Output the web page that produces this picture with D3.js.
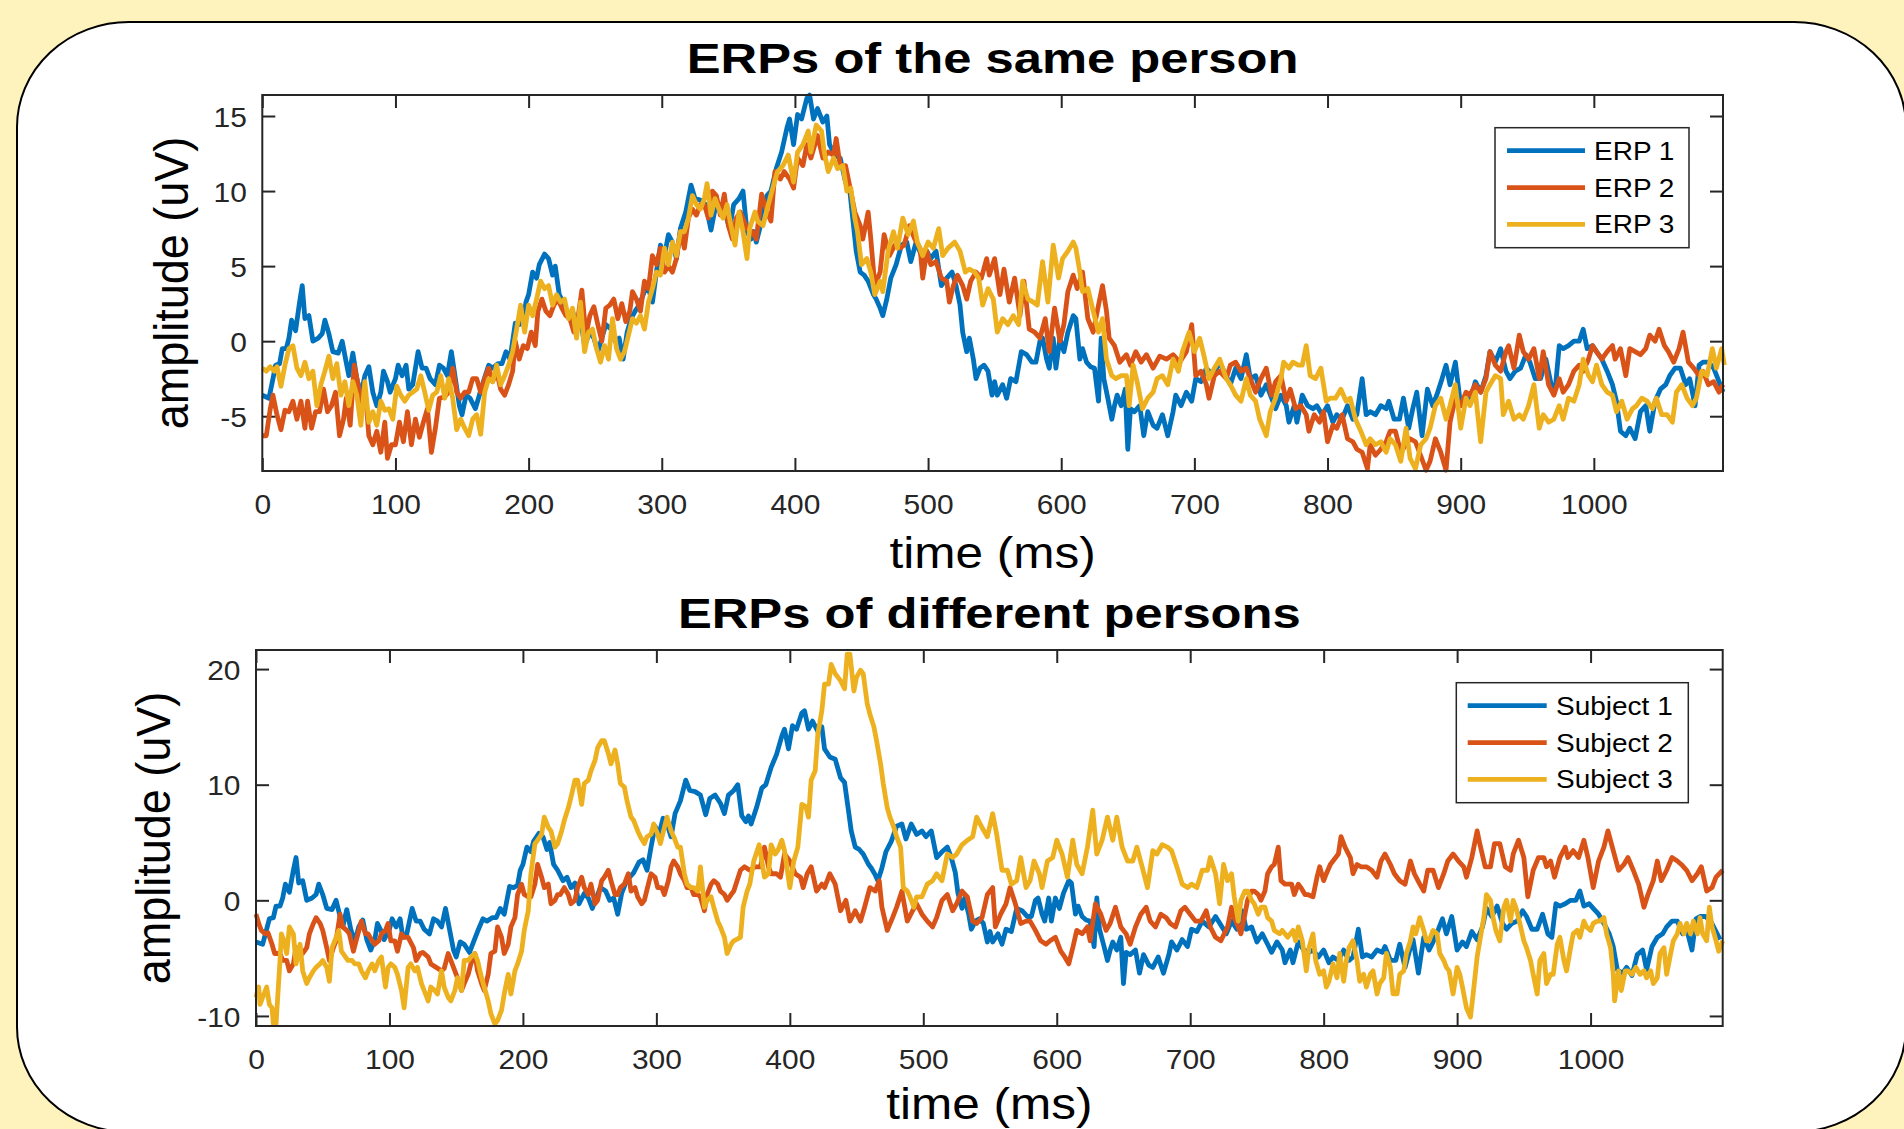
<!DOCTYPE html>
<html><head><meta charset="utf-8">
<script src="https://cdn.jsdelivr.net/npm/d3@7"></script>
<style>html,body{margin:0;padding:0;background:#fef2bd;overflow:hidden}</style>
</head><body><svg id="chart" width="1904" height="1129"></svg>
<script>
// ---------- data (time in ms, amplitude in uV) ----------
const xTicks = [0,100,200,300,400,500,600,700,800,900,1000];
const topYTicks = [-5,0,5,10,15];
const bottomYTicks = [-10,0,10,20];
const topXDomain = [0,1097];
const bottomXDomain = [0,1099];
const topYDomain = [-8.65,16.4];
const bottomYDomain = [-10.87,21.65];
const topTitle = "ERPs of the same person";
const bottomTitle = "ERPs of different persons";
const xLabel = "time (ms)";
const yLabel = "amplitude (uV)";
const topLegend = ["ERP 1","ERP 2","ERP 3"];
const bottomLegend = ["Subject 1","Subject 2","Subject 3"];
const colors = ["#0072BD","#D95319","#EDB120"];

const erp1 = [[0,-3.6],[5,-3.8],[8,-2.5],[10,-1.6],[13,-1.5],[15,-0.5],[18,-0.5],[20,0.2],[22,1.4],[25,0.7],[28,2.6],[30,3.7],[32,1.5],[35,1.7],[38,0.0],[42,0.2],[45,0.5],[47,1.4],[50,0.5],[53,-0.7],[57,-0.8],[60,0.0],[63,-1.4],[65,-2.3],[68,-0.8],[71,-2.5],[74,-3.6],[77,-2.3],[80,-1.7],[83,-3.4],[86,-4.3],[89,-3.4],[91,-2.0],[94,-2.7],[96,-3.4],[100,-2.5],[102,-1.6],[105,-2.3],[108,-1.6],[110,-3.2],[113,-2.9],[117,-0.7],[120,-1.8],[123,-1.8],[126,-2.5],[130,-2.9],[133,-1.6],[136,-1.8],[139,-2.3],[142,-0.7],[145,-2.5],[148,-4.3],[150,-4.9],[153,-3.6],[156,-3.8],[160,-4.5],[163,-3.6],[166,-2.7],[170,-1.6],[173,-1.8],[177,-1.5],[180,-1.5],[183,-0.7],[186,-1.2],[190,1.2],[193,1.1],[196,1.3],[198,2.6],[200,3.1],[203,4.6],[206,4.2],[208,5.1],[212,5.8],[215,5.5],[218,4.4],[220,5.0],[223,3.1],[226,2.6],[230,1.7],[233,2.0],[236,1.1],[239,1.5],[242,-0.3],[246,0.6],[249,0.2],[252,-0.7],[255,0.2],[258,1.1],[262,0.8],[265,0.0],[268,0.2],[271,-1.2],[274,0.6],[277,1.5],[280,2.0],[283,2.4],[287,3.3],[290,3.5],[293,2.6],[296,4.6],[299,6.4],[302,5.7],[305,7.1],[308,6.6],[311,5.5],[314,7.5],[318,8.6],[322,10.4],[325,9.5],[329,9.4],[333,9.1],[337,7.4],[340,8.8],[344,9.1],[348,8.4],[351,7.5],[354,9.1],[358,9.5],[361,10.0],[364,7.3],[367,6.8],
[369,7.3],[371,6.6],[375,8.0],[379,9.7],[382,10.0],[386,11.5],[390,12.6],[394,14.2],[396,14.8],[399,13.1],[402,15.1],[405,14.8],[409,16.2],[411,16.4],[414,14.8],[417,15.5],[421,14.6],[424,15.0],[426,13.1],[430,12.4],[434,12.2],[438,10.6],[441,10.2],[444,7.7],[446,6.0],[449,4.6],[452,4.4],[455,4.0],[459,3.1],[461,2.8],[464,2.2],[466,1.7],[469,2.8],[472,4.2],[476,5.1],[480,6.4],[484,6.6],[487,5.3],[491,6.6],[495,5.7],[499,6.0],[502,5.5],[506,6.0],[510,3.7],[514,4.2],[518,4.6],[521,3.7],[524,2.4],[526,0.6],[529,-0.7],[531,0.2],[534,-1.2],[536,-2.5],[539,-1.8],[542,-1.6],[545,-2.0],[548,-3.6],[550,-2.7],[552,-3.6],[556,-2.9],[559,-3.8],[562,-2.5],[566,-2.7],[570,-0.7],[574,-0.9],[578,-1.4],[581,-1.4],[584,0.0],[586,0.2],[589,-1.2],[591,-1.8],[594,0.2],[596,-1.8],[599,0.2],[602,-0.7],[605,0.6],[609,1.7],[611,1.5],[614,-1.2],[616,-0.5],[619,-1.4],[622,-1.7],[625,-1.8],[628,-4.0],[630,0.2],[632,-2.5],[635,-3.8],[638,-5.2],[640,-4.3],[642,-3.6],[645,-4.3],[648,-3.2],[650,-7.2],[652,-4.5],[655,-4.7],[659,-4.3],[662,-6.3],[665,-4.7],[669,-5.6],[672,-5.8],[676,-4.9],[680,-6.3],[684,-4.7],[686,-3.6],[690,-4.3],[694,-3.4],[698,-4.0],[701,-2.5],[705,-2.7],[709,-1.8],[714,-2.3],[719,-1.4],
[727,-2.9],[731,-1.8],[735,-2.5],[739,-0.9],[742,-2.5],[746,-2.3],[750,-3.6],[754,-2.9],[758,-3.8],[761,-4.5],[765,-3.6],[769,-4.3],[771,-5.4],[775,-4.3],[777,-5.4],[781,-3.6],[785,-4.3],[789,-4.5],[792,-4.3],[796,-4.9],[800,-4.3],[804,-5.4],[807,-4.9],[811,-5.2],[815,-4.3],[819,-5.2],[822,-4.9],[826,-2.5],[829,-4.9],[832,-4.7],[836,-4.9],[840,-4.3],[844,-4.5],[846,-4.0],[850,-5.2],[854,-5.2],[857,-3.8],[861,-5.8],[864,-4.5],[867,-3.4],[871,-6.3],[875,-3.2],[879,-4.3],[882,-3.6],[886,-2.5],[889,-1.6],[892,-2.9],[896,-1.4],[900,-4.3],[904,-3.6],[907,-4.0],[911,-2.7],[915,-3.4],[919,-2.3],[922,-0.7],[926,-1.4],[930,-0.5],[934,-2.0],[937,-2.5],[941,-2.0],[945,-1.8],[949,-0.9],[952,-1.4],[956,-2.5],[960,-2.5],[964,-1.2],[968,-2.9],[971,-3.2],[974,-0.3],[977,-0.5],[981,-0.3],[985,0.0],[989,0.0],[992,0.8],[995,-0.5],[999,-0.3],[1002,-0.7],[1006,-1.2],[1010,-2.0],[1014,-2.9],[1017,-4.0],[1020,-6.0],[1024,-6.3],[1027,-5.8],[1031,-6.5],[1035,-4.7],[1039,-4.3],[1042,-6.0],[1046,-4.0],[1050,-3.2],[1054,-2.9],[1057,-2.3],[1061,-1.8],[1065,-1.8],[1069,-2.9],[1072,-2.5],[1076,-4.3],[1079,-1.6],[1082,-1.4],[1086,-1.4],[1090,-1.8],[1094,-2.7],[1097,-3.4]];

const erp2 = [[0,-6.3],[3,-6.3],[6,-4.5],[8,-3.6],[11,-4.9],[14,-5.9],[17,-4.6],[20,-4.7],[23,-4.0],[26,-5.2],[29,-4.0],[32,-5.8],[34,-4.0],[37,-5.8],[40,-4.7],[43,-4.7],[46,-3.2],[49,-4.7],[52,-4.3],[55,-3.4],[58,-6.3],[61,-5.2],[63,-3.8],[66,-5.6],[69,-1.6],[72,-2.9],[75,-4.3],[78,-4.0],[80,-6.3],[83,-6.9],[86,-6.0],[89,-7.4],[92,-5.4],[94,-7.8],[97,-6.9],[100,-6.9],[103,-5.4],[106,-6.7],[109,-4.7],[112,-6.9],[115,-5.2],[118,-6.4],[121,-5.4],[124,-4.5],[127,-7.4],[130,-5.8],[133,-3.8],[137,-3.7],[140,-3.4],[143,-1.8],[146,-3.4],[149,-3.8],[152,-3.4],[155,-3.4],[158,-2.5],[161,-2.5],[164,-3.4],[167,-2.5],[170,-1.8],[173,-2.7],[176,-2.0],[179,-3.2],[182,-3.6],[185,-2.9],[188,-2.0],[190,0.0],[193,-1.2],[196,-0.3],[199,-0.5],[202,0.6],[205,-0.3],[207,2.0],[210,2.8],[213,2.0],[216,1.7],[219,2.4],[222,2.8],[225,2.2],[228,1.7],[231,1.5],[234,0.6],[237,1.5],[240,3.4],[243,0.4],[246,1.7],[249,2.3],[252,1.1],[255,0.0],[258,2.2],[261,2.4],[264,2.8],[267,1.5],[270,2.5],[273,1.3],[276,2.0],[278,3.3],[281,2.8],[284,2.0],[287,4.0],[290,3.5],[293,5.7],[296,5.1],[299,6.2],[302,4.6],[305,5.0],[308,4.6],[311,5.5],[314,7.3],[317,6.2],[320,8.2],[323,8.8],[326,8.4],[329,9.1],[332,9.1],[335,8.2],[338,10.0],[341,9.7],[344,8.4],[347,9.8],[350,7.7],[353,6.8],[356,8.2],
[359,8.6],[364,7.5],[368,7.3],[371,6.8],[375,9.8],[379,8.6],[382,8.0],[385,11.3],[389,10.8],[392,11.3],[396,10.8],[399,10.2],[402,12.2],[406,11.7],[409,13.1],[412,12.2],[417,13.7],[421,12.2],[425,12.6],[429,12.4],[431,13.5],[434,11.7],[438,11.7],[441,10.4],[445,8.6],[449,7.7],[451,6.8],[455,8.6],[457,6.8],[460,3.7],[464,4.6],[467,7.1],[471,5.7],[475,6.4],[479,6.2],[482,6.4],[486,7.7],[490,6.8],[494,6.2],[496,4.2],[499,6.0],[502,5.1],[506,5.3],[510,4.2],[514,4.0],[516,2.6],[519,3.7],[522,4.4],[526,3.7],[529,2.8],[532,4.0],[536,4.6],[540,4.2],[544,5.5],[546,4.4],[550,5.5],[554,3.1],[557,4.8],[561,2.6],[565,4.2],[569,1.7],[572,4.0],[576,0.8],[580,0.6],[584,0.2],[588,1.5],[591,-0.7],[595,2.2],[599,0.0],[602,1.1],[605,3.3],[609,4.4],[612,3.5],[616,4.6],[620,1.5],[624,0.6],[628,2.4],[631,3.7],[634,2.0],[636,0.2],[640,-0.3],[644,-1.4],[649,-0.9],[652,-1.6],[656,-0.7],[660,-1.4],[664,-0.9],[669,-1.8],[674,-1.0],[679,-1.2],[684,-0.9],[689,-1.4],[694,-0.7],[698,1.1],[701,-2.3],[705,-2.0],[709,-2.9],[711,-3.8],[715,-2.3],[719,-2.0],
[724,-2.5],[727,-1.6],[731,-1.4],[735,-2.0],[739,-1.8],[742,-2.5],[746,-3.4],[750,-2.5],[754,-1.8],[758,-3.6],[761,-2.7],[765,-2.3],[769,-4.0],[772,-3.2],[776,-4.5],[780,-4.3],[784,-4.9],[786,-6.0],[790,-4.9],[794,-5.4],[797,-4.7],[800,-6.7],[804,-5.6],[807,-5.8],[811,-4.9],[815,-6.5],[819,-6.7],[822,-7.2],[826,-7.4],[830,-8.5],[832,-6.9],[836,-7.6],[840,-7.2],[844,-6.7],[847,-6.0],[851,-6.0],[855,-7.4],[859,-6.9],[862,-6.5],[866,-6.7],[869,-7.4],[874,-8.6],[877,-8.0],[881,-6.5],[885,-7.4],[889,-8.6],[892,-5.4],[896,-3.8],[900,-4.3],[904,-3.4],[907,-3.6],[911,-2.9],[915,-3.4],[919,-2.5],[922,-0.7],[926,-1.6],[930,-2.0],[934,-0.7],[936,-0.3],[940,-1.8],[944,0.4],[947,-0.7],[951,-1.2],[955,-0.5],[959,-2.5],[962,-0.7],[966,-2.9],[970,-3.6],[974,-2.5],[977,-3.4],[981,-2.9],[985,-2.0],[989,-1.6],[992,-2.0],[996,-1.2],[999,-0.3],[1002,-0.7],[1006,-1.2],[1010,-0.7],[1014,-0.3],[1016,-1.2],[1020,-0.5],[1024,-2.3],[1027,-0.5],[1031,-0.7],[1035,-0.9],[1039,-0.5],[1042,0.4],[1046,0.0],[1049,0.8],[1053,-0.3],[1056,-0.7],[1060,-1.4],[1064,-0.5],[1067,0.6],[1071,-1.4],[1075,-1.8],[1079,-2.3],[1082,-2.0],[1086,-2.9],[1090,-2.7],[1094,-3.4],[1097,-2.9]];

const erp3 = [[0,-1.8],[3,-2.0],[6,-1.7],[9,-2.0],[11,-1.7],[14,-3.0],[17,-1.6],[20,-0.5],[23,-0.3],[26,-1.8],[29,-2.3],[32,-1.4],[35,-2.5],[38,-2.0],[41,-4.3],[44,-2.9],[47,-2.0],[50,-1.0],[53,-2.5],[56,-1.5],[59,-3.6],[62,-2.7],[65,-4.3],[68,-2.7],[71,-3.6],[74,-5.6],[77,-2.7],[80,-5.4],[83,-4.7],[86,-5.6],[89,-4.0],[92,-4.6],[95,-4.5],[98,-5.2],[101,-3.0],[104,-3.6],[107,-4.0],[110,-3.6],[113,-3.4],[116,-3.2],[119,-2.3],[122,-3.4],[125,-4.6],[128,-3.6],[131,-3.4],[134,-2.3],[137,-3.8],[140,-2.5],[143,-3.8],[146,-5.9],[149,-5.2],[152,-5.8],[155,-6.3],[158,-5.2],[161,-4.9],[164,-6.2],[167,-3.4],[170,-2.5],[173,-2.7],[176,-1.6],[179,-2.9],[182,-2.3],[185,-1.6],[188,-0.7],[191,0.8],[194,2.4],[197,0.6],[200,2.4],[203,1.7],[206,2.8],[209,4.0],[212,3.5],[215,3.7],[218,2.4],[221,3.1],[224,2.6],[227,2.8],[230,1.5],[233,2.2],[236,0.2],[239,2.6],[242,-0.7],[245,0.6],[248,0.8],[251,-0.5],[254,-1.4],[257,-0.3],[260,-1.2],[263,1.5],[266,-0.5],[269,-1.2],[272,-0.7],[275,0.4],[278,1.5],[281,1.2],[284,1.7],[287,0.8],[290,2.6],[293,3.5],[296,4.6],[299,4.4],[302,6.2],[305,5.1],[308,6.6],[311,5.7],[314,7.3],[317,7.3],[320,8.2],[323,9.7],[326,9.1],[329,8.8],[332,9.5],[334,10.5],[337,8.4],[340,9.5],[343,8.8],[346,8.2],[349,9.1],[352,7.7],[355,6.4],[358,8.6],
[361,7.3],[364,5.5],[366,7.5],[370,8.6],[372,8.0],[376,7.7],[380,9.1],[384,10.4],[387,11.3],[391,11.7],[395,12.4],[399,10.6],[402,12.6],[406,13.1],[410,14.0],[412,12.6],[416,14.4],[420,14.0],[422,12.6],[425,11.3],[429,12.2],[432,11.5],[436,11.7],[439,10.0],[442,10.2],[445,8.2],[447,7.3],[450,5.1],[454,5.5],[457,4.6],[460,3.1],[464,4.0],[466,3.3],[470,6.0],[474,7.3],[477,6.2],[481,8.2],[485,7.1],[489,8.0],[492,6.6],[496,5.7],[500,6.6],[504,6.2],[508,7.5],[511,5.7],[515,6.2],[520,6.6],[524,6.0],[528,4.6],[531,4.8],[535,4.6],[538,4.2],[541,2.4],[545,3.5],[549,2.8],[552,0.6],[556,1.5],[560,1.1],[564,1.7],[568,1.1],[571,4.0],[575,2.8],[579,2.6],[582,2.4],[586,5.3],[590,2.6],[594,6.4],[598,4.2],[601,5.5],[605,6.0],[609,6.6],[611,6.2],[614,4.6],[616,3.3],[620,3.5],[624,2.0],[628,0.6],[631,1.5],[634,-1.2],[638,-2.3],[641,-2.5],[645,-2.3],[649,-2.3],[651,-4.3],[654,-1.6],[657,-2.7],[661,-4.5],[665,-3.8],[669,-3.4],[672,-2.5],[676,-2.3],[680,-2.9],[684,-1.2],[688,-2.0],[691,-0.7],[696,0.6],[700,-0.7],[704,0.2],[707,-0.9],[711,-2.5],[715,-1.8],[719,-1.2],
[724,-2.5],[727,-2.9],[731,-3.6],[735,-4.0],[739,-2.5],[742,-3.6],[746,-4.0],[749,-5.2],[754,-6.3],[757,-4.7],[761,-3.8],[765,-2.5],[767,-1.4],[771,-1.8],[774,-1.4],[778,-1.6],[781,-1.6],[784,-0.3],[787,-2.3],[791,-2.5],[795,-1.8],[799,-4.0],[802,-3.8],[806,-3.8],[810,-3.2],[814,-4.0],[817,-3.8],[821,-5.2],[825,-6.0],[829,-6.9],[832,-6.5],[836,-6.9],[840,-6.7],[844,-7.4],[847,-6.5],[851,-6.9],[855,-8.0],[859,-5.8],[862,-7.8],[866,-8.5],[870,-6.9],[874,-6.5],[877,-5.8],[881,-4.3],[885,-3.8],[889,-5.2],[892,-4.3],[896,-2.9],[900,-5.8],[904,-3.8],[907,-4.3],[911,-3.4],[915,-6.7],[919,-3.4],[922,-2.9],[926,-2.3],[930,-2.5],[932,-4.9],[936,-4.0],[940,-5.2],[944,-4.9],[947,-5.2],[951,-4.3],[955,-2.9],[959,-5.8],[962,-4.9],[966,-5.4],[970,-5.2],[974,-4.3],[977,-5.2],[981,-3.8],[985,-4.0],[989,-2.9],[992,-1.2],[996,-2.3],[999,-2.7],[1002,-1.6],[1006,-2.9],[1010,-3.4],[1014,-3.6],[1017,-4.7],[1021,-4.0],[1025,-5.2],[1029,-4.5],[1032,-4.3],[1036,-3.8],[1040,-4.0],[1044,-4.5],[1047,-3.8],[1051,-4.9],[1055,-4.9],[1059,-5.4],[1062,-3.4],[1066,-2.9],[1070,-3.8],[1074,-4.3],[1077,-3.8],[1081,-2.0],[1085,-2.3],[1089,-0.5],[1092,-1.8],[1096,-0.5],[1098,-1.6]];

// Subject 1 is the same recording as ERP 1 (identical trace in the picture)
const subject1 = erp1;

const subject2 = [[0,-1.2],[2,-2.0],[4,-2.6],[7,-2.9],[9,-2.8],[12,-3.8],[14,-4.6],[18,-4.6],[20,-5.2],[23,-5.2],[25,-6.1],[28,-5.5],[30,-4.1],[33,-4.6],[35,-4.6],[38,-4.1],[40,-2.9],[43,-2.0],[45,-1.5],[48,-2.0],[50,-2.6],[53,-4.1],[55,-5.2],[58,-4.1],[60,-3.5],[63,-1.2],[65,-2.3],[68,-2.6],[70,-2.9],[73,-4.4],[75,-3.5],[79,-1.8],[82,-2.9],[84,-2.9],[87,-3.5],[89,-3.8],[92,-3.5],[94,-2.9],[97,-2.6],[99,-2.0],[101,-3.5],[104,-3.5],[106,-4.4],[109,-2.9],[111,-3.2],[114,-3.2],[118,-4.1],[120,-5.2],[123,-4.6],[125,-4.5],[129,-4.9],[131,-5.5],[135,-5.8],[139,-6.1],[141,-5.9],[144,-4.6],[146,-5.2],[149,-6.1],[151,-6.7],[154,-7.8],[156,-7.2],[159,-6.4],[161,-5.5],[164,-4.6],[166,-6.1],[169,-7.2],[171,-7.8],[174,-6.4],[176,-4.6],[179,-4.4],[181,-2.3],[184,-3.2],[186,-4.6],[189,-3.8],[191,-2.3],[194,-1.5],[196,0.5],[199,1.4],[201,0.5],[204,0.3],[206,0.3],[209,1.4],[211,3.1],[214,2.0],[216,1.1],[219,1.4],[221,-0.3],[224,0.0],[226,0.5],[228,0.5],[231,1.1],[234,0.5],[236,-0.3],[239,0.0],[241,1.1],[244,2.0],[246,1.1],[249,0.5],[251,1.4],[254,-0.3],[256,0.0],[259,1.7],[261,2.0],[264,2.6],[266,1.7],[269,0.5],[271,0.5],[273,1.1],[276,1.4],[279,2.3],[281,0.8],[284,1.1],[286,0.3],[289,-0.3],[291,0.0],[294,1.4],[296,2.3],[299,2.0],[301,1.1],[304,1.1],[306,0.5],[309,1.7],[311,2.9],[313,3.4],[316,2.9],[318,2.3],[321,1.7],[323,1.1],[326,1.1],[328,0.5],[331,0.5],[333,0.3],[336,-0.9],[338,0.5],[341,1.4],[343,1.7],[346,1.4],[348,0.8],[351,0.5],[353,0.0],[356,0.5],[358,0.8],
[363,2.6],[366,2.9],[370,2.6],[374,2.9],[378,2.9],[381,4.6],[384,2.9],[386,2.3],[390,2.3],[393,2.0],[396,4.0],[400,3.4],[404,2.3],[408,2.0],[410,1.1],[413,2.3],[416,2.9],[420,0.8],[424,1.4],[426,1.1],[430,2.3],[434,1.4],[438,-0.9],[442,0.0],[445,-1.8],[449,-0.9],[453,-1.8],[456,-0.6],[460,1.1],[464,0.8],[467,1.7],[469,-0.6],[473,-2.6],[477,-1.5],[480,-0.6],[484,0.8],[488,-1.8],[492,-0.9],[495,-0.3],[499,-1.2],[503,-1.8],[507,-2.3],[510,-1.5],[514,0.0],[518,0.5],[522,-0.9],[525,-0.3],[529,0.8],[533,0.3],[537,-1.8],[540,-2.0],[544,-1.5],[548,0.5],[552,1.1],[554,-2.3],[558,-1.2],[562,-0.3],[565,1.1],[569,-0.3],[573,-2.0],[577,-1.8],[580,-1.8],[584,-2.6],[588,-3.5],[592,-3.8],[595,-3.5],[599,-3.2],[603,-4.4],[606,-4.9],[609,-5.5],[612,-4.1],[615,-2.6],[619,-2.9],[623,-2.3],[625,-3.5],[629,-0.3],[633,-1.2],[637,-2.6],[640,-2.0],[644,-0.6],[648,-2.3],[652,-2.9],[655,-3.8],[659,-2.3],[663,-1.2],[667,-0.6],[670,-1.8],[674,-2.3],[678,-1.2],[682,-1.5],[685,-2.0],[689,-2.3],[693,-0.9],[696,-0.6],[700,-1.2],[704,-1.8],[708,-1.8],[712,-0.9],[715,-2.3],[719,-3.2],[723,-3.5],
[728,-2.3],[731,-0.6],[733,-1.5],[736,-2.3],[738,-2.9],[741,-1.2],[743,0.0],[746,0.8],[748,0.8],[751,0.5],[753,0.0],[756,0.8],[758,2.3],[761,2.9],[763,3.1],[766,4.6],[768,1.7],[771,1.4],[773,1.4],[776,1.4],[778,0.5],[781,1.4],[783,1.1],[786,0.5],[788,0.5],[792,0.3],[795,2.0],[797,2.9],[800,1.7],[802,2.3],[805,3.1],[807,3.4],[811,4.0],[813,5.5],[816,4.6],[820,3.7],[822,2.3],[825,3.1],[828,2.9],[832,2.9],[836,2.6],[840,2.0],[843,3.4],[846,4.0],[850,3.1],[853,2.3],[857,1.7],[861,1.4],[865,3.4],[868,2.3],[872,1.4],[875,0.8],[878,2.6],[882,2.6],[886,1.1],[890,2.3],[893,3.4],[897,4.0],[901,3.4],[905,2.9],[907,2.0],[911,3.7],[915,6.0],[917,4.9],[921,2.9],[925,2.9],[928,4.9],[932,4.9],[936,2.9],[940,2.6],[942,4.0],[946,5.2],[950,3.7],[953,0.3],[957,2.6],[961,3.7],[965,3.7],[967,2.9],[970,3.4],[973,2.0],[977,3.7],[981,4.6],[983,3.7],[987,4.3],[991,3.7],[995,5.2],[998,3.7],[1002,1.1],[1006,3.4],[1010,4.6],[1013,6.0],[1017,4.3],[1021,2.6],[1025,3.1],[1028,3.7],[1032,2.6],[1036,1.4],[1040,-0.6],[1043,0.5],[1047,1.7],[1050,3.4],[1053,1.7],[1057,2.6],[1061,3.7],[1065,3.4],[1068,3.1],[1072,2.6],[1076,1.7],[1080,2.3],[1083,2.9],[1087,0.8],[1091,1.1],[1094,2.0],[1099,2.6]];

const subject3 = [[0,-8.4],[2,-7.5],[3,-9.0],[5,-8.4],[8,-7.5],[10,-9.0],[12,-9.3],[13,-10.7],[15,-10.7],[18,-5.2],[19,-2.9],[21,-3.5],[23,-4.6],[25,-2.3],[28,-2.9],[30,-5.5],[33,-3.8],[35,-6.1],[38,-7.2],[40,-6.7],[43,-6.1],[45,-5.8],[48,-5.5],[50,-5.2],[53,-5.8],[55,-7.0],[57,-4.1],[59,-3.5],[62,-2.6],[64,-4.4],[67,-4.9],[69,-5.2],[72,-5.2],[74,-5.5],[77,-5.5],[79,-6.1],[82,-6.7],[84,-6.1],[87,-5.5],[89,-6.1],[92,-5.2],[94,-4.9],[97,-7.5],[99,-5.8],[101,-5.5],[104,-5.8],[106,-6.4],[109,-7.8],[111,-9.3],[114,-5.8],[116,-5.5],[119,-6.1],[121,-5.8],[124,-7.2],[126,-7.8],[129,-8.7],[131,-7.5],[134,-7.8],[136,-8.1],[139,-6.1],[141,-7.5],[144,-8.4],[146,-8.7],[149,-7.8],[151,-6.7],[154,-7.8],[156,-5.2],[159,-5.2],[161,-4.9],[164,-4.6],[166,-5.2],[169,-6.7],[171,-7.5],[174,-8.7],[176,-9.8],[179,-10.7],[181,-10.4],[184,-9.5],[186,-8.1],[189,-6.4],[191,-8.1],[194,-6.1],[196,-5.5],[199,-4.4],[201,-2.6],[204,-0.9],[206,2.3],[209,4.9],[211,5.2],[214,5.7],[216,7.2],[219,6.3],[221,6.0],[224,4.6],[226,4.9],[229,6.0],[231,6.9],[234,8.0],[236,8.9],[239,10.4],[241,10.4],[244,8.3],[246,10.1],[249,10.4],[251,11.2],[254,12.1],[256,13.2],[259,13.8],[261,13.8],[264,12.7],[266,11.8],[269,13.0],[271,11.8],[273,10.1],[276,9.8],[278,8.6],[281,7.2],[283,6.9],[286,6.0],[288,5.5],[291,4.9],[293,5.5],[296,5.7],[298,6.6],[301,5.7],[303,4.9],[306,6.3],[308,7.2],[311,6.0],[313,5.5],[316,4.6],[318,4.6],[321,2.3],[323,1.4],[326,1.1],[328,1.1],[331,0.8],[333,2.9],[336,-0.6],[338,0.0],[341,0.3],[343,-0.6],[346,-1.8],[348,-2.3],[351,-3.2],[353,-4.6],[356,-3.8],[358,-3.5],
[363,-3.2],[365,-0.6],[368,0.8],[370,1.4],[373,3.4],[377,4.8],[379,3.4],[381,2.0],[384,2.3],[386,4.8],[389,4.0],[391,4.3],[394,5.2],[396,4.3],[400,1.1],[403,3.4],[406,4.6],[409,8.3],[412,8.1],[414,7.2],[416,10.4],[419,11.2],[421,14.4],[424,16.4],[426,18.7],[429,18.7],[431,20.4],[434,19.6],[438,19.0],[441,18.3],[443,21.3],[445,21.3],[448,18.1],[450,19.3],[453,19.9],[455,19.6],[458,17.0],[460,16.1],[463,15.0],[465,13.8],[468,11.8],[470,10.1],[473,8.0],[475,7.2],[478,6.3],[480,5.5],[483,4.6],[485,1.1],[488,0.8],[490,0.3],[493,-0.6],[495,0.3],[499,0.3],[503,1.4],[507,1.7],[510,2.3],[514,1.7],[518,4.0],[522,3.7],[525,4.0],[529,4.8],[533,5.2],[537,5.5],[540,7.2],[544,6.3],[548,5.5],[552,7.5],[555,5.7],[559,2.6],[563,2.6],[566,1.4],[570,1.7],[573,3.7],[577,1.1],[580,1.7],[583,3.4],[587,2.3],[589,1.1],[593,3.4],[597,3.7],[600,5.2],[604,4.0],[608,2.0],[612,5.2],[615,3.1],[619,2.3],[623,4.6],[627,7.8],[630,4.0],[634,5.2],[638,7.2],[642,5.2],[645,7.2],[649,4.6],[653,3.4],[657,3.4],[660,4.6],[664,2.9],[668,1.1],[672,4.3],[675,4.0],[679,4.8],[683,4.6],[686,4.3],[690,2.9],[694,1.4],[698,1.1],[701,1.4],[705,1.1],[709,2.6],[713,2.6],[715,3.7],[719,2.3],[722,-0.3],[725,3.1],
[728,1.7],[731,2.3],[733,0.3],[736,-1.8],[738,0.0],[741,0.8],[743,0.8],[746,0.0],[748,-0.3],[751,-1.2],[753,-0.6],[756,-0.6],[758,-1.5],[761,-1.8],[763,-2.6],[767,-2.9],[769,-2.6],[773,-3.2],[777,-2.6],[779,-3.5],[781,-2.3],[784,-3.5],[787,-6.1],[789,-4.1],[792,-2.9],[794,-5.2],[797,-6.4],[800,-6.1],[802,-7.5],[804,-7.0],[807,-5.5],[810,-6.7],[812,-4.6],[815,-7.0],[817,-5.2],[819,-4.1],[822,-3.5],[825,-5.2],[827,-7.0],[830,-6.4],[832,-7.5],[835,-6.4],[837,-6.1],[840,-8.1],[842,-7.2],[845,-6.7],[847,-4.6],[850,-5.8],[852,-8.1],[855,-8.1],[857,-6.4],[860,-6.1],[862,-4.6],[865,-3.5],[867,-2.3],[869,-2.9],[872,-1.5],[875,-2.6],[877,-3.5],[879,-3.5],[882,-2.6],[885,-2.9],[887,-4.6],[890,-5.2],[892,-5.8],[894,-6.1],[897,-8.1],[900,-5.8],[902,-6.4],[904,-7.5],[907,-9.3],[910,-10.1],[912,-8.1],[915,-4.9],[917,-3.5],[920,-1.5],[922,0.5],[925,0.0],[927,-1.5],[929,-2.6],[932,-3.5],[935,-0.6],[937,0.0],[940,-1.8],[942,0.0],[944,-0.6],[947,-2.0],[950,-3.5],[952,-4.1],[955,-5.2],[957,-6.4],[960,-8.1],[962,-5.2],[965,-4.6],[967,-7.2],[970,-6.4],[972,-6.4],[975,-3.8],[977,-3.2],[980,-5.2],[982,-6.1],[985,-4.1],[987,-2.9],[990,-2.6],[992,-3.2],[995,-1.8],[997,-2.3],[1000,-2.6],[1002,-2.0],[1005,-1.8],[1007,-1.8],[1010,-1.5],[1012,-2.9],[1015,-4.1],[1017,-6.4],[1018,-8.7],[1021,-6.1],[1023,-7.8],[1026,-6.1],[1028,-6.1],[1031,-6.4],[1034,-5.8],[1037,-6.4],[1040,-6.1],[1042,-6.7],[1045,-6.1],[1047,-7.2],[1050,-6.7],[1052,-4.6],[1055,-4.1],[1057,-6.4],[1060,-4.6],[1062,-3.5],[1065,-2.9],[1067,-2.0],[1070,-2.9],[1072,-2.0],[1075,-2.9],[1077,-1.8],[1080,-2.9],[1082,-1.5],[1084,-2.9],[1087,-3.5],[1089,-0.6],[1091,-2.3],[1094,-3.5],[1096,-4.4],[1099,-3.5]];

// ---------- drawing ----------
const FONT = "'Liberation Sans', Arial, Helvetica, sans-serif";
const AX = "#262626";
const LW = 4.8;
const svg = d3.select('#chart');
svg.append('rect').attr('width',1904).attr('height',1129).attr('fill','#fef2bd');
svg.append('rect').attr('x',17).attr('y',22).attr('width',1889).attr('height',1110)
   .attr('rx',112).attr('ry',105).attr('fill','#ffffff').attr('stroke','#000').attr('stroke-width',2);

function stretch(sel, sx){
  sel.each(function(){
    const t = d3.select(this);
    const x = +t.attr('x') || 0, y = +t.attr('y') || 0;
    t.attr('transform', `translate(${x},${y}) scale(${sx},1) translate(${-x},${-y})`);
  });
}

function drawPanel(p){
  const x = d3.scaleLinear().domain(p.xDomain).range([p.left, p.right]);
  const y = d3.scaleLinear().domain(p.yDomain).range([p.bottom, p.top]);
  const g = svg.append('g');
  const T = 13;

  const styleAxis = a => {
    a.attr('font-family', FONT).attr('font-size', 28).attr('color', AX);
    a.select('.domain').remove();
    a.selectAll('.tick line').attr('stroke-width', 2);
    a.selectAll('.tick text').attr('fill', AX);
  };

  const ab = g.append('g').attr('transform', `translate(0,${p.bottom})`)
    .call(d3.axisBottom(x).tickValues(xTicks).tickSizeInner(-T).tickSizeOuter(0).tickFormat(d => String(d)));
  styleAxis(ab);
  ab.selectAll('.tick text').attr('y', p.xTickBaseline).attr('dy', null);
  stretch(ab.selectAll('.tick text'), 1.07);

  const at = g.append('g').attr('transform', `translate(0,${p.top})`)
    .call(d3.axisTop(x).tickValues(xTicks).tickSizeInner(-T).tickSizeOuter(0).tickFormat(''));
  styleAxis(at);

  const al = g.append('g').attr('transform', `translate(${p.left},0)`)
    .call(d3.axisLeft(y).tickValues(p.yTicks).tickSizeInner(-T).tickSizeOuter(0).tickFormat(d => String(d)));
  styleAxis(al);
  al.selectAll('.tick text').attr('x', -15.5).attr('dy', '0.36em');
  stretch(al.selectAll('.tick text'), 1.07);

  const ar = g.append('g').attr('transform', `translate(${p.right},0)`)
    .call(d3.axisRight(y).tickValues(p.yTicks).tickSizeInner(-T).tickSizeOuter(0).tickFormat(''));
  styleAxis(ar);

  // data lines
  const line = d3.line().x(d => x(d[0])).y(d => y(d[1]));
  p.series.forEach((s, i) => {
    g.append('path').datum(s).attr('d', line).attr('fill', 'none')
      .attr('stroke', colors[i]).attr('stroke-width', LW)
      .attr('stroke-linejoin', 'round').attr('stroke-linecap', 'butt');
  });

  // axes box
  g.append('rect').attr('x', p.left).attr('y', p.top)
    .attr('width', p.right - p.left).attr('height', p.bottom - p.top)
    .attr('fill', 'none').attr('stroke', AX).attr('stroke-width', 2);

  // title
  const tt = g.append('text').attr('x', (p.left + p.right) / 2).attr('y', p.titleBaseline)
    .attr('text-anchor', 'middle').attr('font-family', FONT).attr('font-weight', 'bold')
    .attr('font-size', 43).attr('fill', '#000').text(p.title);
  stretch(tt, 1.18);

  // x label
  const xl = g.append('text').attr('x', (p.left + p.right) / 2).attr('y', p.xLabelBaseline)
    .attr('text-anchor', 'middle').attr('font-family', FONT).attr('font-size', 45)
    .attr('fill', '#000').text(xLabel);
  stretch(xl, 1.1);

  // y label
  g.append('text')
    .attr('transform', `translate(${p.yLabelX},${p.yLabelY}) scale(1.06,1) rotate(-90)`)
    .attr('text-anchor', 'middle').attr('dy', '0.26em').attr('font-family', FONT)
    .attr('font-size', 45).attr('fill', '#000').text(yLabel);

  // legend
  const L = p.legend;
  const lg = g.append('g');
  lg.append('rect').attr('x', L.x).attr('y', L.y).attr('width', L.w).attr('height', L.h)
    .attr('fill', '#fff').attr('stroke', AX).attr('stroke-width', 1.5);
  p.labels.forEach((lab, i) => {
    const cy = L.rows[i];
    lg.append('line').attr('x1', L.lx1).attr('x2', L.lx2).attr('y1', cy).attr('y2', cy)
      .attr('stroke', colors[i]).attr('stroke-width', LW);
    const tx = lg.append('text').attr('x', L.tx).attr('y', cy + 9)
      .attr('font-family', FONT).attr('font-size', 25).attr('fill', '#000').text(lab);
    stretch(tx, 1.12);
  });
}

drawPanel({
  left: 262.3, right: 1723, top: 95, bottom: 471,
  xDomain: topXDomain, yDomain: topYDomain, yTicks: topYTicks,
  series: [erp1, erp2, erp3], labels: topLegend, title: topTitle,
  titleBaseline: 73.5, xTickBaseline: 43, xLabelBaseline: 568.5,
  yLabelX: 176, yLabelY: 283,
  legend: {x: 1495, y: 127.7, w: 194, h: 120, lx1: 1507, lx2: 1585, tx: 1594, rows: [150.7, 187.7, 224.3]}
});

drawPanel({
  left: 256, right: 1722.7, top: 650, bottom: 1026,
  xDomain: bottomXDomain, yDomain: bottomYDomain, yTicks: bottomYTicks,
  series: [subject1, subject2, subject3], labels: bottomLegend, title: bottomTitle,
  titleBaseline: 628.5, xTickBaseline: 43, xLabelBaseline: 1119,
  yLabelX: 158, yLabelY: 838,
  legend: {x: 1456.3, y: 682.7, w: 232, h: 120, lx1: 1467.7, lx2: 1546.7, tx: 1556, rows: [705.7, 742.7, 779.3]}
});
</script>
</body></html>
